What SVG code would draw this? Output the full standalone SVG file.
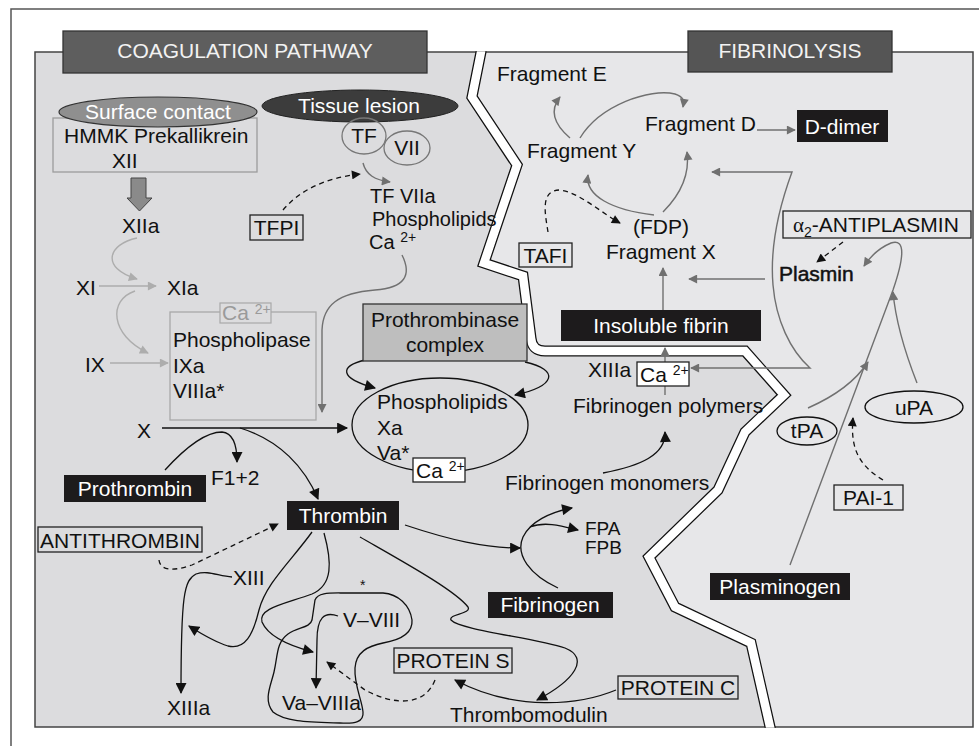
<svg xmlns="http://www.w3.org/2000/svg" width="979" height="746" viewBox="0 0 979 746">
<defs>
<style>
.t{font-family:"Liberation Sans",Arial,Helvetica,sans-serif;font-size:21px;fill:#111}
.w{fill:#fff}
.c{text-anchor:middle}
.g{fill:none;stroke:#707070;stroke-width:1.4}
.k{fill:none;stroke:#111;stroke-width:1.3}
.l{fill:none;stroke:#adadad;stroke-width:1.4}
.d{fill:none;stroke:#111;stroke-width:1.3;stroke-dasharray:5 4}
.box{fill:none;stroke:#222;stroke-width:1.3}
.wbox{fill:#fff;stroke:#222;stroke-width:1.3}
.blk{fill:#1d1b1c}
.sup{font-size:14px}
.s20{font-size:20px}
</style>
<marker id="mg" viewBox="0 0 10 10" refX="9" refY="5" markerWidth="10" markerHeight="9" markerUnits="userSpaceOnUse" orient="auto-start-reverse"><path d="M0,0 L10,5 L0,10 z" fill="#707070"/></marker>
<marker id="ml" viewBox="0 0 10 10" refX="9" refY="5" markerWidth="10" markerHeight="9" markerUnits="userSpaceOnUse" orient="auto"><path d="M0,0 L10,5 L0,10 z" fill="#adadad"/></marker>
<marker id="mb" viewBox="0 0 10 10" refX="9" refY="5" markerWidth="12" markerHeight="11" markerUnits="userSpaceOnUse" orient="auto"><path d="M0,0 L10,5 L0,10 z" fill="#111"/></marker>
<marker id="md" viewBox="0 0 10 10" refX="9" refY="5" markerWidth="10" markerHeight="9" markerUnits="userSpaceOnUse" orient="auto"><path d="M0,0 L10,5 L0,10 z" fill="#111"/></marker>
<clipPath id="pc"><rect x="34" y="51.3" width="940" height="676.4"/></clipPath>
</defs>

<!-- outer frame -->
<path d="M11,746 L11,9 L979,9" fill="none" stroke="#555" stroke-width="1.5"/>

<!-- panels -->
<g id="panels">
<rect x="35" y="52" width="938" height="675" fill="#e7e7e9"/>
<path d="M35,52 L481,52 L472,97 L517,165 L484,263 L523,276 L531,338 Q532,351 545,351 L745,351 L784,395 L745,432 L718,490 L649,557 L675,607 L751,643 L770,727 L35,727 Z" fill="#dcdcde"/>
<rect x="35" y="52" width="938" height="675" fill="none" stroke="#444" stroke-width="1.5"/>
<g clip-path="url(#pc)">
<path d="M482,40 L481,52 L472,97 L517,165 L484,263 L523,276 L531,338 Q532,351 545,351 L745,351 L784,395 L745,432 L718,490 L649,557 L675,607 L751,643 L773,740" fill="none" stroke="#111" stroke-width="11" stroke-linejoin="miter"/>
<path d="M482,40 L481,52 L472,97 L517,165 L484,263 L523,276 L531,338 Q532,351 545,351 L745,351 L784,395 L745,432 L718,490 L649,557 L675,607 L751,643 L773,740" fill="none" stroke="#fff" stroke-width="8.5" stroke-linejoin="miter"/>
</g>
</g>

<g id="hdr-coag">
<rect x="63" y="31" width="364" height="42" fill="#5e5e5e" stroke="#333" stroke-width="1.3"/>
<text class="t c" x="245" y="58" style="fill:#f2f2f2">COAGULATION PATHWAY</text>
</g>
<g id="hdr-fib">
<rect x="688" y="31" width="204" height="41" fill="#555" stroke="#333" stroke-width="1.3"/>
<text class="t c" x="790" y="58" style="fill:#f2f2f2">FIBRINOLYSIS</text>
</g>

<!-- connectors -->
<g id="connectors">
<path class="g" d="M363,163 C366,175 375,180 390,182" marker-end="url(#mg)"/>
<path class="g" d="M402,255 C412,275 405,288 375,290 C338,293 323,305 322,330 L322,412" marker-end="url(#mg)"/>
<path class="g" d="M570,138 C556,126 548,112 560,97" marker-end="url(#mg)"/>
<path class="g" d="M580,138 C600,105 650,88 675,94 C684,97 684,101 683,107" marker-end="url(#mg)"/>
<path class="g" d="M654,215 C612,210 585,196 588,175" marker-end="url(#mg)"/>
<path class="g" d="M663,212 C680,195 690,175 687,152" marker-end="url(#mg)"/>
<path class="g" d="M757,130 L795,130" marker-end="url(#mg)"/>
<path class="g" d="M712,172 L792,172 C778,210 770,250 773,285 C776,320 790,350 810,368 L691,368" marker-start="url(#mg)" marker-end="url(#mg)"/>
<path class="g" d="M765,279 L689,279" marker-end="url(#mg)"/>
<path class="g" d="M663,310 L663,268" marker-end="url(#mg)"/>
<path class="g" d="M665,395 L665,348" marker-end="url(#mg)"/>
<path class="g" d="M790,565 L893,290 C904,258 906,238 891,243 C879,248 870,257 864,266" marker-end="url(#mg)"/>
<path class="g" d="M808,408 C833,397 855,382 868,362" marker-end="url(#mg)"/>
<path class="g" d="M917,383 C906,355 896,325 893,292" marker-end="url(#mg)"/>

<path class="l" d="M137,238 C108,244 100,268 137,279" marker-end="url(#ml)"/>
<path class="l" d="M99,286 L156,286" marker-end="url(#ml)"/>
<path class="l" d="M135,291 C108,300 110,335 148,353" marker-end="url(#ml)"/>
<path class="l" d="M110,363 L168,363" marker-end="url(#ml)"/>

<path d="M131,178 L146,178 L146,198 L152,198 L139.5,211 L127,198 L131,198 Z" fill="#8a8a8a" stroke="#444" stroke-width="1"/>

<path class="k" d="M162,428 L347,428" marker-end="url(#mb)"/>
<path class="k" d="M240,428 C280,440 305,468 318,499" marker-end="url(#mb)"/>
<path class="k" d="M165,470 C185,448 205,432 222,432 C233,433 237,445 237,462" marker-end="url(#mb)"/>
<path class="k" d="M365,360 C340,366 338,378 375,388" marker-end="url(#mb)"/>
<path class="k" d="M525,362 C560,370 556,386 515,395" marker-end="url(#mb)"/>
<path class="k" d="M232,577 C218,576 208,570 196,574 C184,580 181,595 181,693" marker-end="url(#mb)"/>
<path class="k" d="M312,532 C292,560 266,583 259,610 C253,635 245,650 228,646 C215,642 200,633 189,626" marker-end="url(#mb)"/>
<path class="k" d="M324,533 C332,562 333,585 312,594 C285,604 258,608 262,622 C268,636 290,646 313,652" marker-end="url(#mb)"/>
<path class="k" d="M338,616 C324,611 317,618 317,640 L316,688" marker-end="url(#mb)"/>
<path class="k" d="M315,600 C318,592 330,593 345,593 L383,593 C398,594 410,605 412,620 C413,633 400,640 383,643 C368,646 356,652 355,668 C354,685 362,700 363,712 C364,722 355,724 340,723 C310,722 285,722 273,712 C263,700 271,685 274,672 C278,655 276,643 288,634 C298,627 310,628 312,620 Z"/>
<path class="k" d="M360,537 C400,560 455,590 468,607 C472,614 448,614 451,620 C460,630 535,638 565,648 C590,658 575,680 537,700" marker-end="url(#mb)"/>
<path class="k" d="M616,690 C580,705 515,712 455,680" marker-end="url(#mb)"/>
<path class="k" d="M405,525 C450,540 485,548 520,548" marker-end="url(#mb)"/>
<path class="k" d="M558,588 C530,575 515,555 523,537 C530,522 550,512 572,508" marker-end="url(#mb)"/>
<path class="k" d="M530,527 C545,521 562,526 578,530" marker-end="url(#mb)"/>
<path class="k" d="M603,473 C640,466 666,455 665,432" marker-end="url(#mb)"/>

<path class="d" d="M283,210 C300,190 325,178 360,174" marker-end="url(#md)"/>
<path class="d" d="M159,560 C160,570 172,572 192,565 L278,524" marker-end="url(#md)"/>
<path class="d" d="M435,680 C425,706 395,706 365,690 L327,662" marker-end="url(#md)"/>
<path class="d" d="M548,232 C545,213 540,190 560,190 C580,193 600,212 620,223" marker-end="url(#md)"/>
<path class="d" d="M843,242 L817,262" marker-end="url(#md)"/>
<path class="d" d="M883,480 C860,466 850,450 853,418" marker-end="url(#md)"/>
</g>

<!-- coagulation nodes -->
<g id="surface-contact">
<rect x="53" y="118" width="204" height="54" fill="none" stroke="#9c9c9c" stroke-width="1.3"/>
<ellipse cx="158" cy="112" rx="99" ry="15" fill="#8f8f8f" stroke="#333" stroke-width="1.2"/>
<text class="t c w" x="158" y="119">Surface contact</text>
<text class="t" x="64" y="143">HMMK Prekallikrein</text>
<text class="t" x="112" y="168">XII</text>
</g>
<g id="tissue-lesion">
<ellipse cx="360" cy="106" rx="98" ry="16" fill="#3c3c3c" stroke="#222" stroke-width="1"/>
<text class="t c w" x="359" y="113">Tissue lesion</text>
</g>
<g id="tf">
<ellipse cx="364" cy="136" rx="22" ry="18" fill="none" stroke="#777" stroke-width="1.3"/>
<text class="t c" x="364" y="143">TF</text>
</g>
<g id="vii">
<ellipse cx="407" cy="148" rx="23" ry="17" fill="none" stroke="#777" stroke-width="1.3"/>
<text class="t c" x="407" y="155">VII</text>
</g>
<g id="tfpi">
<rect class="box" x="250" y="215" width="53" height="25"/>
<text class="t c" x="276.5" y="235">TFPI</text>
</g>
<g id="tfviia">
<text class="t s20" x="370" y="203">TF VIIa</text>
<text class="t s20" x="372" y="225.5">Phospholipids</text>
<text class="t s20" x="369" y="249">Ca <tspan class="sup" dy="-7">2+</tspan></text>
</g>
<g id="xiia"><text class="t" x="122" y="233">XIIa</text></g>
<g id="xi"><text class="t" x="76" y="295">XI</text></g>
<g id="xia"><text class="t" x="167" y="295">XIa</text></g>
<g id="ix"><text class="t" x="85" y="372">IX</text></g>
<g id="tenase">
<rect x="170" y="312" width="146" height="108" fill="none" stroke="#a8a8a8" stroke-width="1.3"/>
<rect x="220" y="303" width="51" height="20" fill="#dcdcde" stroke="#a8a8a8" stroke-width="1.2"/>
<text class="t" x="222" y="320" style="fill:#9a9a9a">Ca <tspan class="sup" dy="-6">2+</tspan></text>
<text class="t" x="173" y="347">Phospholipase</text>
<text class="t" x="173" y="373">IXa</text>
<text class="t" x="173" y="398">VIIIa*</text>
</g>
<g id="x"><text class="t" x="137" y="438">X</text></g>
<g id="prothrombinase">
<rect x="363" y="304" width="164" height="57" fill="#bebebe" stroke="#333" stroke-width="1.3"/>
<text class="t c" x="445" y="327">Prothrombinase</text>
<text class="t c" x="445" y="352">complex</text>
</g>
<g id="xa-complex">
<ellipse cx="440" cy="425" rx="88" ry="47" fill="none" stroke="#111" stroke-width="1.3"/>
<text class="t" x="377" y="409">Phospholipids</text>
<text class="t" x="377" y="435">Xa</text>
<text class="t" x="377" y="460">Va*</text>
<rect class="wbox" x="413" y="458" width="52" height="24"/>
<text class="t" x="416" y="478">Ca <tspan class="sup" dy="-7">2+</tspan></text>
</g>
<g id="f12"><text class="t" x="211" y="485">F1+2</text></g>
<g id="prothrombin">
<rect class="blk" x="64" y="475" width="142" height="27"/>
<text class="t c w" x="135" y="496">Prothrombin</text>
</g>
<g id="thrombin">
<rect class="blk" x="287" y="501" width="112" height="29"/>
<text class="t c w" x="343" y="523">Thrombin</text>
</g>
<g id="antithrombin">
<rect class="box" x="38" y="527" width="164" height="25"/>
<text class="t c" x="120" y="548">ANTITHROMBIN</text>
</g>
<g id="xiii"><text class="t" x="233" y="585">XIII</text></g>
<g id="xiiia"><text class="t" x="167" y="715">XIIIa</text></g>
<g id="star"><text class="t" x="360" y="590" style="font-size:14px">*</text></g>
<g id="v-viii"><text class="t" x="343" y="627">V–VIII</text></g>
<g id="va-viiia"><text class="t" x="282" y="710">Va–VIIIa</text></g>
<g id="protein-s">
<rect class="box" x="394" y="648" width="118" height="25"/>
<text class="t c" x="453" y="668">PROTEIN S</text>
</g>
<g id="thrombomodulin"><text class="t" x="450" y="722">Thrombomodulin</text></g>
<g id="protein-c">
<rect class="box" x="618" y="676" width="120" height="23"/>
<text class="t c" x="678" y="695">PROTEIN C</text>
</g>
<g id="fpa-fpb">
<text class="t" x="585" y="535" style="font-size:19px">FPA</text>
<text class="t" x="585" y="554" style="font-size:19px">FPB</text>
</g>
<g id="fibrinogen">
<rect class="blk" x="488" y="592" width="125" height="26"/>
<text class="t c w" x="550" y="612">Fibrinogen</text>
</g>
<g id="monomers"><text class="t" x="505" y="490">Fibrinogen monomers</text></g>
<g id="polymers"><text class="t" x="573" y="413">Fibrinogen polymers</text></g>
<g id="xiiia-ca">
<text class="t" x="588" y="377">XIIIa</text>
<rect class="wbox" x="637" y="362" width="52" height="24"/>
<text class="t" x="640" y="382">Ca <tspan class="sup" dy="-7">2+</tspan></text>
</g>

<!-- fibrinolysis nodes -->
<g id="insoluble-fibrin">
<rect class="blk" x="561" y="310" width="200" height="31"/>
<text class="t c w" x="661" y="333">Insoluble fibrin</text>
</g>
<g id="fragment-e"><text class="t" x="497" y="81">Fragment E</text></g>
<g id="fragment-d"><text class="t" x="645" y="131">Fragment D</text></g>
<g id="d-dimer">
<rect class="blk" x="797" y="110" width="91" height="32"/>
<text class="t c w" x="842" y="134">D-dimer</text>
</g>
<g id="fragment-y"><text class="t" x="527" y="158">Fragment Y</text></g>
<g id="fragment-x">
<text class="t" x="633" y="234">(FDP)</text>
<text class="t" x="606" y="259">Fragment X</text>
</g>
<g id="tafi">
<rect class="box" x="519" y="243" width="53" height="24"/>
<text class="t c" x="545.5" y="263">TAFI</text>
</g>
<g id="antiplasmin">
<rect class="box" x="783" y="211" width="188" height="27"/>
<text class="t" x="793" y="232"><tspan style="font-family:'Liberation Serif',serif">α</tspan><tspan class="sup" dy="5">2</tspan><tspan dy="-5">-ANTIPLASMIN</tspan></text>
</g>
<g id="plasmin"><text class="t" x="779" y="281" stroke="#111" stroke-width="0.5">Plasmin</text></g>
<g id="tpa">
<ellipse cx="807" cy="431" rx="30" ry="14" fill="none" stroke="#111" stroke-width="1.3"/>
<text class="t c" x="807" y="438">tPA</text>
</g>
<g id="upa">
<ellipse cx="914" cy="407" rx="49" ry="16" fill="none" stroke="#111" stroke-width="1.3"/>
<text class="t c" x="914" y="415">uPA</text>
</g>
<g id="pai-1">
<rect class="box" x="834" y="485" width="69" height="25"/>
<text class="t c" x="868.5" y="505">PAI-1</text>
</g>
<g id="plasminogen">
<rect class="blk" x="710" y="573" width="140" height="27"/>
<text class="t c w" x="780" y="594">Plasminogen</text>
</g>
</svg>
